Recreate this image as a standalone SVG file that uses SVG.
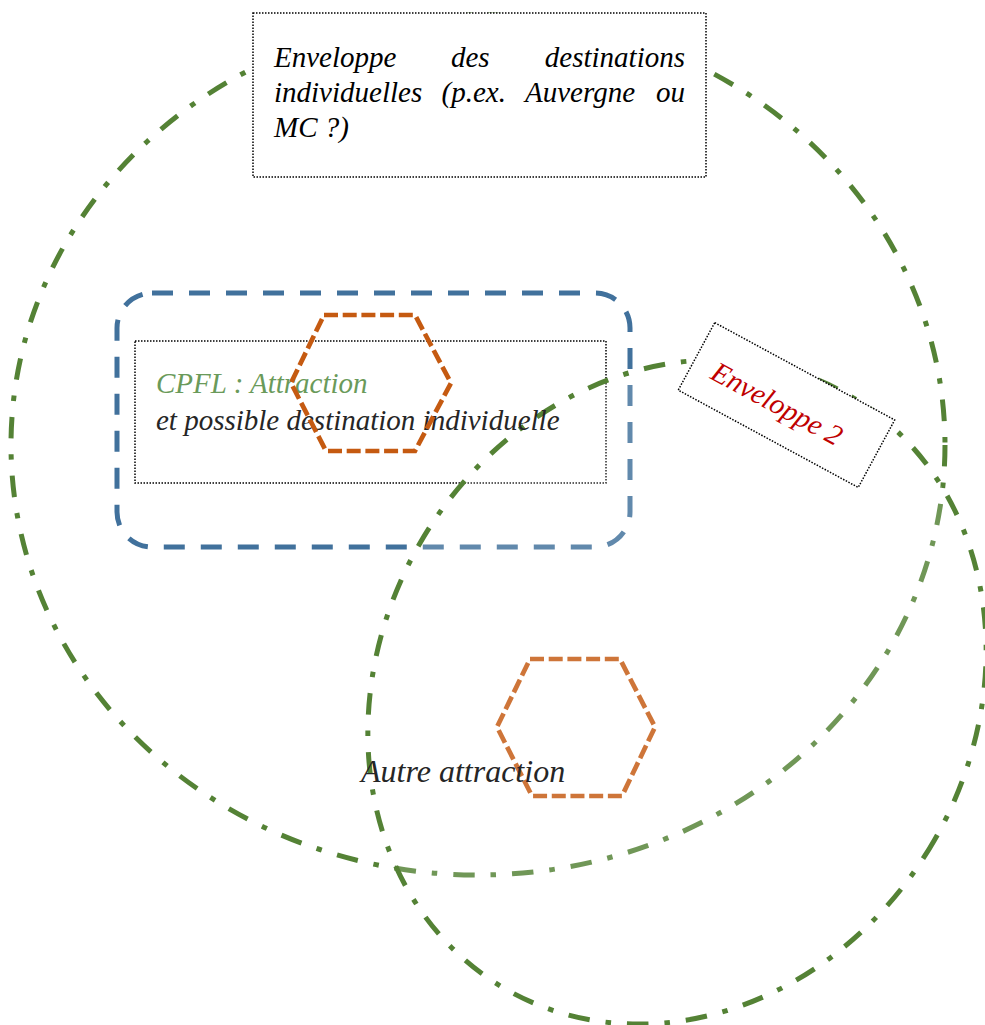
<svg xmlns="http://www.w3.org/2000/svg" width="985" height="1025" viewBox="0 0 985 1025">
  <style>
    .env { fill: none; stroke: #548235; stroke-width: 5; stroke-dasharray: 21.5 16 5.5 16; }
    .zone { fill: none; stroke: #41719C; stroke-width: 5; stroke-dasharray: 21 16; }
    .dotbox { fill: #ffffff; stroke: #000000; stroke-width: 1.5; stroke-dasharray: 1.5 1.5; }
    .dotline { fill: none; stroke: #000000; stroke-width: 1.5; stroke-dasharray: 1.5 1.5; }
    .hex { fill: none; stroke: #C55A11; stroke-width: 4.7; stroke-dasharray: 14 4.7; }
    .t { font-family: "Liberation Serif", "Times New Roman", serif; font-style: italic; font-size: 29px; }
  </style>
  <rect x="0" y="0" width="985" height="1025" fill="#ffffff"/>

  <g id="enveloppe-1-ellipse">
    <ellipse class="env" cx="478" cy="445" rx="467" ry="430"/>
  </g>

  <g id="cpfl-zone">
    <rect class="zone" x="117" y="293" width="513" height="254" rx="35" ry="35"/>
    <rect class="dotline" x="135" y="341" width="471" height="142"/>
  </g>

  <g id="autre-hexagon">
    <polygon class="hex" points="530,659 620,659 655,727 622,796 532,796 497,727"/>
  </g>

  <g id="enveloppe-2-ellipse">
    <ellipse cx="677" cy="692" rx="297" ry="343" transform="rotate(30 677 692)" fill="#ffffff" fill-opacity="0.17" stroke="#548235" stroke-width="5" stroke-dasharray="21.5 16 5.5 16"/>
  </g>

  <g id="cpfl-label">
    <text class="t" x="156" y="393" fill="#6A9A5A">CPFL : Attraction</text>
    <text class="t" x="156" y="430" fill="#262626">et possible destination individuelle</text>
  </g>

  <g id="cpfl-hexagon">
    <polygon class="hex" points="324,315 415,315 451,383 415,451 326,451 291,383"/>
  </g>

  <g id="autre-label">
    <text class="t" x="361" y="782" fill="#262626" style="font-size:32px">Autre attraction</text>
  </g>

  <g id="enveloppe-1-label">
    <rect class="dotbox" x="253" y="13" width="453" height="164"/>
    <text class="t" fill="#000000">
      <tspan x="274" y="67">Enveloppe</tspan>
      <tspan x="451" y="67">des</tspan>
      <tspan x="685" y="67" text-anchor="end">destinations</tspan>
    </text>
    <text class="t" fill="#000000">
      <tspan x="274" y="102">individuelles</tspan>
      <tspan x="441.5" y="102">(p.ex.</tspan>
      <tspan x="525" y="102">Auvergne</tspan>
    </text>
    <text class="t" x="685" y="102" text-anchor="end" fill="#000000">ou</text>
    <text class="t" x="274" y="137" fill="#000000">MC ?)</text>
  </g>

  <g id="enveloppe-2-label" transform="translate(786.5 405) rotate(28.4)">
    <rect class="dotbox" x="-102.3" y="-38.3" width="204.6" height="76.7"/>
    <text class="t" x="-81" y="13" fill="#C00000">Enveloppe 2</text>
  </g>

  <g id="connectors"/>
</svg>
